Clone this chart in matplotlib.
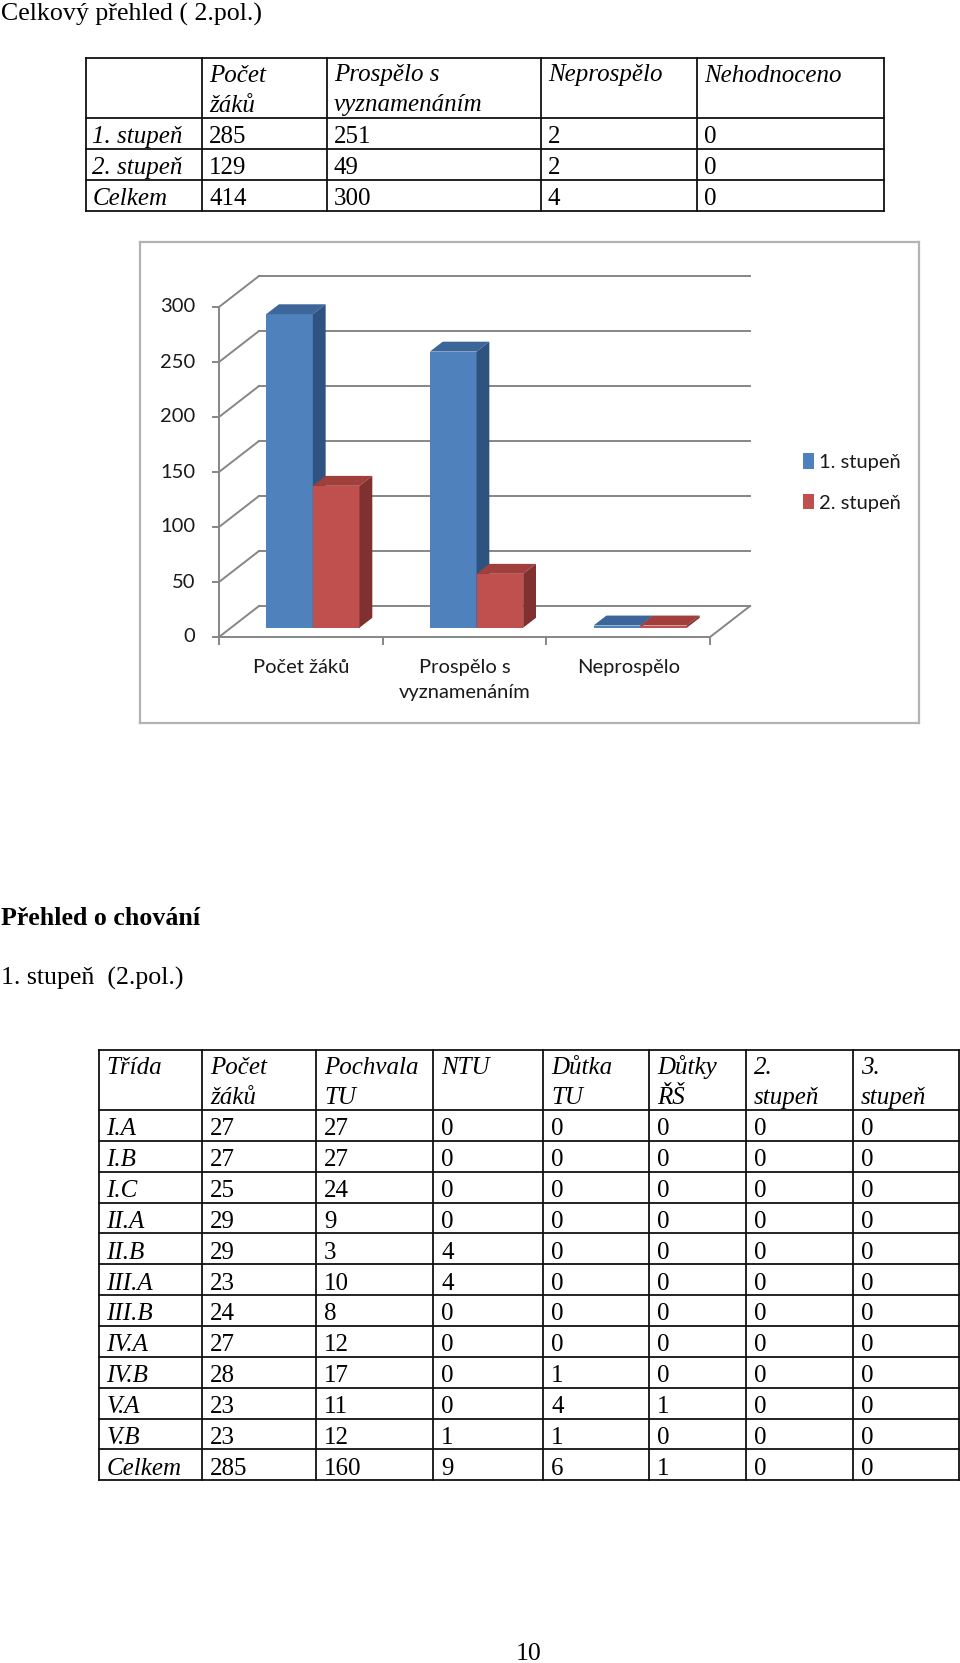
import matplotlib
matplotlib.use('Agg')
import matplotlib.pyplot as plt
from matplotlib.patches import Polygon, Patch

# --- data: table 1 (celkový přehled) ---
hdr1 = ['', 'Počet\nžáků', 'Prospělo s\nvyznamenáním', 'Neprospělo', 'Nehodnoceno']
rows1 = ['1. stupeň', '2. stupeň', 'Celkem']
pocet1 = [285, 129, 414]
prospelo1 = [251, 49, 300]
neprospelo1 = [2, 2, 4]
nehodnoceno1 = [0, 0, 0]

# --- data: 3D bar chart ---
categories = ['Počet žáků', 'Prospělo s\nvyznamenáním', 'Neprospělo']
stupen1 = [285, 251, 2]
stupen2 = [129, 49, 2]
series_names = ['1. stupeň', '2. stupeň']
yticks = [0, 50, 100, 150, 200, 250, 300]

# --- data: table 2 (chování) ---
hdr2 = ['Třída', 'Počet\nžáků', 'Pochvala\nTU', 'NTU', 'Důtka\nTU', 'Důtky\nŘŠ', '2.\nstupeň', '3.\nstupeň']
tridy = ['I.A', 'I.B', 'I.C', 'II.A', 'II.B', 'III.A', 'III.B', 'IV.A', 'IV.B', 'V.A', 'V.B', 'Celkem']
pocet2 = [27, 27, 25, 29, 29, 23, 24, 27, 28, 23, 23, 285]
pochvala = [27, 27, 24, 9, 3, 10, 8, 12, 17, 11, 12, 160]
ntu = [0, 0, 0, 0, 4, 4, 0, 0, 0, 0, 1, 9]
dutka = [0, 0, 0, 0, 0, 0, 0, 0, 1, 4, 1, 6]
dutky_rs = [0, 0, 0, 0, 0, 0, 0, 0, 0, 1, 0, 1]
stupen2_ch = [0, 0, 0, 0, 0, 0, 0, 0, 0, 0, 0, 0]
stupen3_ch = [0, 0, 0, 0, 0, 0, 0, 0, 0, 0, 0, 0]

SERIF = 'Liberation Serif'
FS = 18        # table text
FS_BODY = 18.6  # running text outside tables
CFONT = 'Lato'
CFS = 14.5
W, H = 960, 1663

fig = plt.figure(figsize=(W / 100, H / 100), dpi=100)
fig.patch.set_facecolor('white')

# page axes in pixel coordinates
page = fig.add_axes([0, 0, 1, 1])
page.set_xlim(0, W)
page.set_ylim(H, 0)
page.axis('off')


def txt(x, y, s, size=FS, **kw):
    page.text(x, y, s, family=SERIF, fontsize=size, va='baseline', ha='left', **kw)


def draw_table(cols, top, head_h, row_h, header, first_col, columns, pad=8):
    nrows = len(first_col)
    ys = [top, top + head_h] + [top + head_h + row_h * (i + 1) for i in range(nrows)]
    for y in ys:
        page.plot([cols[0], cols[-1]], [y, y], color='#111111', lw=1.3)
    for x in cols:
        page.plot([x, x], [ys[0], ys[-1]], color='#111111', lw=1.3)
    for j, h in enumerate(header):
        for k, line in enumerate(h.split('\n')):
            txt(cols[j] + pad, top + 24 + 30 * k, line, style='italic')
    for i, name in enumerate(first_col):
        base = ys[i + 2] - 5.5
        txt(cols[0] + pad, base, name, style='italic')
        for j, col in enumerate(columns):
            txt(cols[j + 1] + pad, base, str(col[i]))


txt(1, 21, 'Celkový přehled ( 2.pol.)', size=FS_BODY)
draw_table([85.5, 202, 327, 541, 697, 884], 57.5, 60, 31, hdr1, rows1,
           [pocet1, prospelo1, neprospelo1, nehodnoceno1], pad=7)

txt(1, 925, 'Přehled o chování', size=FS_BODY, weight='bold')
txt(1, 985, '1. stupeň  (2.pol.)', size=FS_BODY)
draw_table([98.5, 202, 316, 433, 543, 649, 746, 853, 959], 1050, 60, 30.85, hdr2, tridy,
           [pocet2, pochvala, ntu, dutka, dutky_rs, stupen2_ch, stupen3_ch])

page.text(529, 1660, '10', family=SERIF, fontsize=FS_BODY, va='baseline', ha='center')

# --- chart (pseudo 3D columns) ---
cl, cr, ct, cb = 140, 919, 242, 723
ax = fig.add_axes([cl / W, 1 - cb / H, (cr - cl) / W, (cb - ct) / H])
pxx = 163.7   # px per category
pxy = 1.1     # px per value unit
x0px, y0px = 219, 637
ax.set_xlim(-0.5 - (x0px - cl) / pxx, -0.5 + (cr - x0px) / pxx)
ax.set_ylim(-(cb - y0px) / pxy, (y0px - ct) / pxy)
ax.set_xticks([])
ax.set_yticks([])
for sp in ax.spines.values():
    sp.set_color('#b3b3b3')
    sp.set_linewidth(1.6)

DX = 40 / pxx
DY = 31 / pxy
n = len(categories)
xa, xb = -0.5, n - 0.5
grid_c = '#868686'
glw = 1.4

for v in yticks:
    ax.plot([xa, xa + DX], [v, v + DY], color=grid_c, lw=glw)
    ax.plot([xa + DX, xb + DX], [v + DY, v + DY], color=grid_c, lw=glw)
    ax.plot([xa - 6 / pxx, xa], [v, v], color=grid_c, lw=glw)
    ax.text(xa - 24 / pxx, v, str(v), ha='right', va='center', family=CFONT, fontsize=CFS, color='#1a1a1a')
ax.plot([xa, xa], [0, yticks[-1]], color=grid_c, lw=glw)
ax.plot([xa, xb], [0, 0], color=grid_c, lw=glw)
ax.plot([xb, xb + DX], [0, DY], color=grid_c, lw=glw)
for i in range(n + 1):
    ax.plot([xa + i, xa + i], [0, -7 / pxy], color=grid_c, lw=glw)

for i, c in enumerate(categories):
    ax.text(i, -22 / pxy, c, ha='center', va='top', family=CFONT, fontsize=CFS,
            color='#1a1a1a', linespacing=1.55)

bw = 0.285
fz, bz = 0.30, 0.62
faces = [('#4F81BD', '#3C6699', '#2F5380'), ('#C0504D', '#A03F3C', '#80302E')]
for i in range(n):
    for s, vals in enumerate([stupen1, stupen2]):
        v = vals[i]
        xl = i - bw + s * bw
        xr = xl + bw
        fx, fy = fz * DX, fz * DY
        bx, by = bz * DX, bz * DY
        front, top, side = faces[s]
        ax.add_patch(Polygon([(xl + fx, fy), (xr + fx, fy), (xr + fx, v + fy), (xl + fx, v + fy)],
                             closed=True, facecolor=front, edgecolor='none', zorder=3))
        ax.add_patch(Polygon([(xl + fx, v + fy), (xr + fx, v + fy), (xr + bx, v + by), (xl + bx, v + by)],
                             closed=True, facecolor=top, edgecolor='none', zorder=3))
        ax.add_patch(Polygon([(xr + fx, fy), (xr + bx, by), (xr + bx, v + by), (xr + fx, v + fy)],
                             closed=True, facecolor=side, edgecolor='none', zorder=3))

handles = [Patch(facecolor=faces[0][0], edgecolor='none'), Patch(facecolor=faces[1][0], edgecolor='none')]
leg = ax.legend(handles, series_names, loc='center left', bbox_to_anchor=((803 - cl) / (cr - cl), 0.5),
                frameon=False, borderpad=0, borderaxespad=0, handlelength=0.55, handleheight=0.8,
                handletextpad=0.25, labelspacing=1.15, prop={'family': CFONT, 'size': CFS})
for t in leg.get_texts():
    t.set_color('#1a1a1a')

fig.savefig('out.png', dpi=100, facecolor='white')
